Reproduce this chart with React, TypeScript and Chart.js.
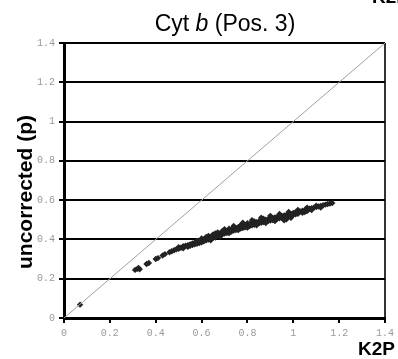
import React, { useEffect, useRef } from "react";
import { Chart, registerables } from "chart.js";

Chart.register(...registerables);

const chartTitle = "Cyt b (Pos. 3)";
const xAxisTitle = "K2P";
const yAxisTitle = "uncorrected (p)";
const tickValues = [0, 0.2, 0.4, 0.6, 0.8, 1, 1.2, 1.4];

const k2pValues = [
  0.07, 0.31, 0.32, 0.325, 0.33, 0.36, 0.37, 0.40, 0.41, 0.43, 0.44, 0.46, 0.47, 0.48, 0.49, 0.50, 0.50,
  0.51, 0.52, 0.52, 0.53, 0.54, 0.54, 0.55, 0.55, 0.56, 0.56, 0.57, 0.57, 0.58, 0.58, 0.59, 0.59,
  0.60, 0.60, 0.60, 0.61, 0.61, 0.62, 0.62, 0.63, 0.63, 0.63, 0.64, 0.64, 0.65, 0.65, 0.65, 0.66, 0.66,
  0.67, 0.67, 0.67, 0.68, 0.68, 0.69, 0.69, 0.69, 0.70, 0.70, 0.70, 0.71, 0.71, 0.72, 0.72, 0.72,
  0.73, 0.73, 0.74, 0.74, 0.74, 0.75, 0.75, 0.76, 0.76, 0.77, 0.77, 0.77, 0.78, 0.78, 0.79, 0.79,
  0.80, 0.80, 0.80, 0.81, 0.81, 0.82, 0.82, 0.83, 0.83, 0.83, 0.84, 0.84, 0.85, 0.85, 0.86, 0.86,
  0.87, 0.87, 0.87, 0.88, 0.88, 0.89, 0.89, 0.90, 0.90, 0.90, 0.91, 0.91, 0.92, 0.92, 0.93, 0.93,
  0.94, 0.94, 0.95, 0.95, 0.96, 0.96, 0.97, 0.97, 0.97, 0.98, 0.98, 0.99, 0.99, 1.00, 1.00, 1.01, 1.01,
  1.02, 1.02, 1.03, 1.04, 1.04, 1.05, 1.06, 1.06, 1.07, 1.08, 1.09, 1.10, 1.11, 1.12, 1.13, 1.14,
  1.15, 1.16, 1.17,
  0.58, 0.62, 0.66, 0.70, 0.74, 0.78, 0.82, 0.86, 0.90, 0.94, 0.98, 1.02, 1.06, 1.10,
  0.64, 0.68, 0.72, 0.76, 0.80, 0.84, 0.88, 0.92, 1.05, 1.08, 1.12,
];

const pValues = [
  0.068, 0.245, 0.25, 0.255, 0.248, 0.275, 0.28, 0.30, 0.305, 0.318, 0.325, 0.335, 0.34, 0.345, 0.35, 0.352, 0.36,
  0.358, 0.365, 0.355, 0.368, 0.37, 0.362, 0.375, 0.368, 0.38, 0.372, 0.383, 0.375, 0.388, 0.378, 0.39, 0.382,
  0.395, 0.405, 0.385, 0.40, 0.39, 0.405, 0.395, 0.41, 0.40, 0.418, 0.412, 0.402, 0.418, 0.408, 0.425, 0.42, 0.41,
  0.428, 0.418, 0.435, 0.43, 0.42, 0.435, 0.425, 0.442, 0.44, 0.43, 0.448, 0.443, 0.433, 0.448, 0.438, 0.455,
  0.45, 0.44, 0.455, 0.445, 0.462, 0.458, 0.448, 0.462, 0.452, 0.466, 0.456, 0.472, 0.468, 0.458, 0.472, 0.462,
  0.475, 0.465, 0.482, 0.478, 0.468, 0.482, 0.472, 0.485, 0.475, 0.492, 0.488, 0.478, 0.492, 0.482, 0.495, 0.485,
  0.498, 0.488, 0.505, 0.50, 0.49, 0.503, 0.493, 0.506, 0.496, 0.512, 0.509, 0.499, 0.512, 0.502, 0.515, 0.505,
  0.518, 0.508, 0.52, 0.51, 0.522, 0.498, 0.525, 0.515, 0.502, 0.528, 0.518, 0.53, 0.51, 0.535, 0.525, 0.538, 0.528,
  0.54, 0.53, 0.543, 0.546, 0.536, 0.549, 0.552, 0.544, 0.556, 0.559, 0.562, 0.565, 0.568, 0.571, 0.574, 0.577,
  0.58, 0.583, 0.585,
  0.392, 0.412, 0.43, 0.452, 0.468, 0.485, 0.498, 0.51, 0.52, 0.53, 0.54, 0.55, 0.562, 0.572,
  0.396, 0.414, 0.432, 0.448, 0.46, 0.472, 0.484, 0.494, 0.54, 0.55, 0.562,
];

const diagonalX = [0, 1.4];
const diagonalY = [0, 1.4];

const textPlugin = {
  id: "texts",
  afterDraw(chart: any) {
    const ctx = chart.ctx;
    ctx.save();
    ctx.fillStyle = "#000";
    const parts = [
      { t: "Cyt ", f: "23px 'Liberation Sans', Arial, sans-serif" },
      { t: "b", f: "italic 23px 'Liberation Sans', Arial, sans-serif" },
      { t: " (Pos. 3)", f: "23px 'Liberation Sans', Arial, sans-serif" },
    ];
    let total = 0;
    for (const p of parts) {
      ctx.font = p.f;
      total += ctx.measureText(p.t).width;
    }
    let x = 225 - total / 2;
    ctx.textBaseline = "alphabetic";
    ctx.textAlign = "left";
    for (const p of parts) {
      ctx.font = p.f;
      ctx.fillText(p.t, x, 31);
      x += ctx.measureText(p.t).width;
    }
    ctx.font = "bold 19px 'Liberation Sans', Arial, sans-serif";
    ctx.textAlign = "right";
    ctx.fillText(xAxisTitle, 395, 355);
    ctx.textAlign = "left";
    ctx.fillText(xAxisTitle, 372, 3);
    ctx.translate(32, 192);
    ctx.rotate(-Math.PI / 2);
    ctx.textAlign = "center";
    ctx.font = "bold 21px 'Liberation Sans', Arial, sans-serif";
    ctx.fillText(yAxisTitle, 0, 0);
    ctx.restore();
  },
};

export default function App() {
  const ref = useRef<HTMLCanvasElement>(null);
  useEffect(() => {
    document.body.style.margin = "0";
    const tickFont = { family: "'Liberation Mono', 'DejaVu Sans Mono', monospace", size: 10 };
    const chart = new Chart(ref.current!, {
      type: "scatter",
      data: {
        datasets: [
          {
            type: "line",
            data: diagonalX.map((v, i) => ({ x: v, y: diagonalY[i] })),
            borderColor: "#a0a0a0",
            borderWidth: 1,
            pointRadius: 0,
            fill: false,
          } as any,
          {
            data: k2pValues.map((v, i) => ({ x: v, y: pValues[i] })),
            backgroundColor: "#222",
            borderColor: "#222",
            pointStyle: "rectRot",
            pointRadius: 3.2,
            borderWidth: 0,
          },
        ],
      },
      options: {
        animation: false,
        responsive: false,
        layout: { padding: { left: 0, right: 11, top: 43, bottom: 0 } },
        plugins: { legend: { display: false }, tooltip: { enabled: false }, title: { display: false } },
        scales: {
          x: {
            type: "linear",
            min: 0,
            max: 1.4,
            afterBuildTicks: (s: any) => {
              s.ticks = tickValues.map((v) => ({ value: v }));
            },
            afterFit: (s: any) => {
              s.height = 41;
            },
            ticks: { color: "#999", font: tickFont, padding: 4, maxRotation: 0, callback: (v: any) => String(Number(v.toFixed(1))) },
            grid: {
              drawOnChartArea: true,
              color: (c: any) => (c.tick && c.tick.value === 1.4 ? "#333" : "rgba(0,0,0,0)"),
              lineWidth: 2,
              tickColor: "#000",
              tickLength: 5,
              tickWidth: 2,
            },
            border: { color: "#000", width: 3 },
          },
          y: {
            type: "linear",
            min: 0,
            max: 1.4,
            afterBuildTicks: (s: any) => {
              s.ticks = tickValues.map((v) => ({ value: v }));
            },
            afterFit: (s: any) => {
              s.width = 64;
            },
            ticks: { color: "#999", font: tickFont, padding: 4, callback: (v: any) => String(Number(v.toFixed(1))) },
            grid: {
              color: "#000",
              lineWidth: 2,
              tickColor: "#000",
              tickLength: 5,
              tickWidth: 2,
            },
            border: { color: "#000", width: 3 },
          },
        },
      },
      plugins: [textPlugin],
    });
    return () => chart.destroy();
  }, []);
  return <canvas ref={ref} width={398} height={359} style={{ display: "block" }} />;
}
